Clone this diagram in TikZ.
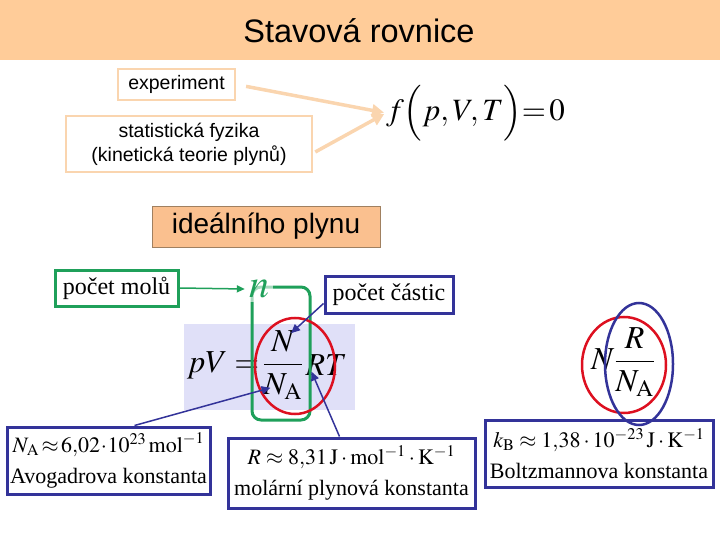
\documentclass[tikz,border=0pt]{standalone}
\usepackage{amsmath}
\usepackage{mathptmx}
\usepackage[no-math]{fontspec}
\setmainfont{Liberation Serif}
\newfontfamily\arialfont{Liberation Sans}
\usetikzlibrary{arrows.meta, positioning, calc}
\definecolor{band}{HTML}{FFCC99}
\definecolor{peach}{HTML}{FAD5AF}
\definecolor{idealfill}{HTML}{FAC08F}
\definecolor{idealdraw}{HTML}{A08060}
\definecolor{molgreen}{HTML}{1FA05A}
\definecolor{cblue}{HTML}{333399}
\definecolor{cred}{HTML}{DD1020}
\definecolor{lavender}{HTML}{E0E0F8}
\tikzset{
  srcbox/.style   = {draw=peach, line width=2.5pt, align=center, inner sep=2pt,
                     font=\arialfont\fontsize{19.5}{24}\selectfont},
  idealbox/.style = {draw=idealdraw, line width=0.8pt, fill=idealfill,
                     font=\arialfont\fontsize{28}{32}\selectfont},
  molbox/.style   = {draw=molgreen, line width=3pt, inner sep=2pt,
                     font=\fontsize{24}{28}\selectfont},
  constbox/.style = {draw=cblue, line width=3pt, align=center, inner sep=2pt,
                     font=\fontsize{22}{31}\selectfont},
  formula/.style  = {inner sep=0pt, font=\fontsize{32}{36}\selectfont},
  srcflow/.style  = {-{Triangle[length=12pt, width=12pt]}, peach, line width=3.5pt},
  molflow/.style  = {-{Triangle[length=8pt, width=7pt]}, molgreen, line width=1.5pt},
  hint/.style     = {-{Triangle[length=9pt, width=8pt]}, cblue, line width=1.5pt},
}
\begin{document}
\begin{tikzpicture}[x=1pt, y=-1pt]
    \useasboundingbox (0,0) rectangle (720,540);
    \fill[band] (0,0) rectangle (720,60);
    \node[font=\arialfont\fontsize{32.5}{36}\selectfont] (title) at (359,31) {Stavová rovnice};

    % where the equation of state comes from
    \node[srcbox, minimum width=117pt, minimum height=31pt] (exp)  at (176.5,84.5) {experiment};
    \node[srcbox, minimum width=246pt, minimum height=56pt] (stat) at (189,144)
      {statistická fyzika\\(kinetická teorie plynů)};
    \node[formula, font=\fontsize{31}{34}\selectfont, anchor=west] (fpvt) at (386,113)
      {$f\Bigl(p,V\!,T\Bigr)\!\!=\!0$};
    \draw[srcflow, shorten <=10pt, shorten >=2pt] (exp.east) -- (fpvt.west);
    \draw[srcflow, shorten >=2pt] ($(stat.east)+(2,8)$) -- (fpvt.west);

    \node[idealbox, minimum width=228pt, minimum height=41pt] (ideal) at (266,226.5) {ideálního plynu};

    % pV = N/N_A RT
    \fill[lavender] (184,324) rectangle (355,410);
    \node[formula] (frac) at (283,365) {$\dfrac{N}{N_{\mathrm{A}}}$};
    \node[formula, left=3pt of frac] (pv) {$pV=$};
    \node[formula, right=2pt of frac] (rt) {$RT$};
    \draw[molgreen, line width=3pt, rounded corners=9pt] (252,287) rectangle (310,420);
    \draw[cred, line width=2.5pt] (295,366) ellipse [x radius=40, y radius=48];

    \node[molbox, minimum width=123pt, minimum height=36pt] (mol) at (116.5,288) {počet molů};
    \node[formula, font=\fontsize{40}{44}\selectfont, text=molgreen, fill=white,
          fill opacity=0.6, text opacity=1, inner sep=4pt] (n) at (259,289) {$n$};
    \draw[molflow] (mol.east) -- (n.west);

    \node[molbox, draw=cblue, minimum width=128pt, minimum height=37pt]
      (cast) at (389,294.5) {počet částic};
    \draw[hint] ($(cast.west)+(0,9)$) -- ($(frac.north)+(8,3)$);

    % the constants
    \node[constbox, minimum width=203pt, minimum height=67pt] (avog) at (108.5,460.5)
      {$N_{\mathrm{A}}\!\approx\! 6{,}02\!\cdot\! 10^{23}\,\mathrm{mol}^{-1}$\\Avogadrova konstanta};
    \node[constbox, minimum width=247pt, minimum height=70pt] (rbox) at (351.5,473)
      {$R\approx 8{,}31\,\mathrm{J}\cdot\mathrm{mol}^{-1}\cdot\mathrm{K}^{-1}$\\molární plynová konstanta};
    \node[constbox, minimum width=228pt, minimum height=67pt] (kb) at (599,453.5)
      {$k_{\mathrm{B}}\approx 1{,}38\cdot 10^{-23}\,\mathrm{J}\cdot\mathrm{K}^{-1}$\\Boltzmannova konstanta};
    \draw[hint] ($(avog.north)+(26,0)$) -- ($(frac.south west)+(8,-12)$);
    \draw[hint] ($(rbox.north)+(-12,0)$) -- ($(rt.south west)+(6,-4)$);

    % N R/N_A
    \node[formula] (nrna) at (623,362) {$N\dfrac{R}{N_{\mathrm{A}}}$};
    \draw[cred, line width=2.5pt] (624,365) ellipse [x radius=42, y radius=48];
    \draw[cblue, line width=2.5pt] (639,364) ellipse [x radius=34, y radius=61];
\end{tikzpicture}
\end{document}
